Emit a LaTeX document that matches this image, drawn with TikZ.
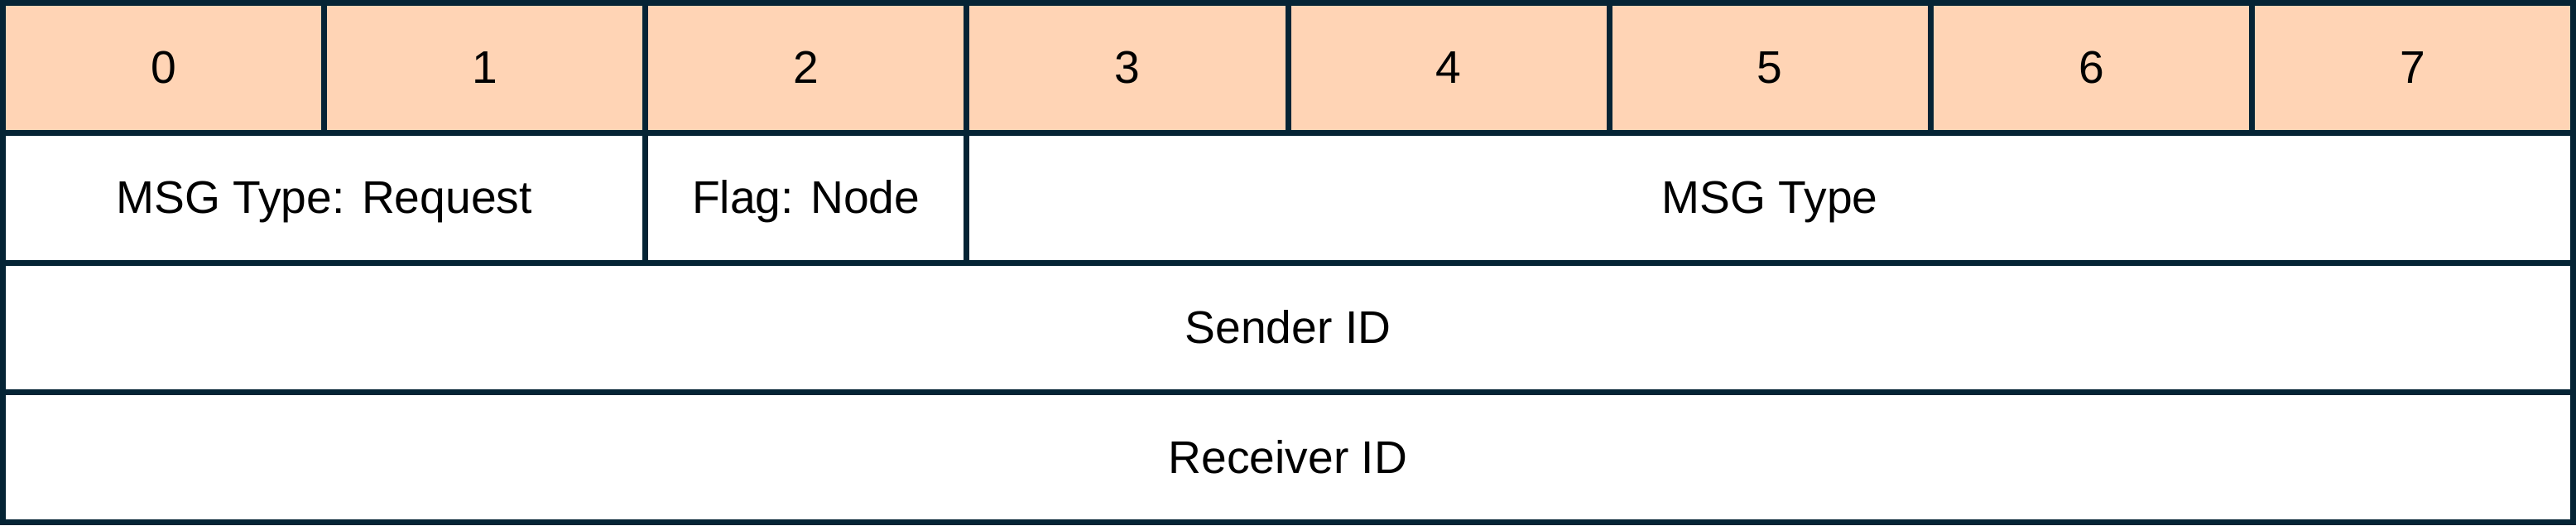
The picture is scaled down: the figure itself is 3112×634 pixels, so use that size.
\documentclass[tikz,border=0pt]{standalone}
\usepackage{fontspec}
\setmainfont{Liberation Sans}
\definecolor{edge}{HTML}{052435}
\definecolor{peach}{HTML}{FFD4B5}
\begin{document}
\begin{tikzpicture}[x=0.25pt,y=-0.25pt,
  cell/.style={draw=edge,line width=1.75pt,inner sep=0pt,outer sep=0pt,
    font=\fontsize{13.8}{16}\selectfont,text=black,text height=9.5pt,text depth=0pt,
    minimum height=39.1875pt},
  head/.style={cell,fill=peach,minimum width=97.03pt},
  body/.style={cell,fill=white}]
\useasboundingbox (0,0) rectangle (3112,634);
\foreach \i in {0,...,7} {
  \node[head] (h\i) at ({3.5+388.125*(\i+0.5)},81.875) {\i};
}
\node[body,minimum width=194.06pt] (reqtype) at (391.625,238.625) {MSG Type: Request};
\node[body,minimum width=97.03pt] (flag) at (973.8125,238.625) {Flag: Node};
\node[body,minimum width=485.16pt] (msgtype) at (2138.1875,238.625) {MSG Type};
\node[body,minimum width=776.25pt] (sender) at (1556,395.375) {Sender ID};
\node[body,minimum width=776.25pt] (receiver) at (1556,552.125) {Receiver ID};
\end{tikzpicture}
\end{document}
